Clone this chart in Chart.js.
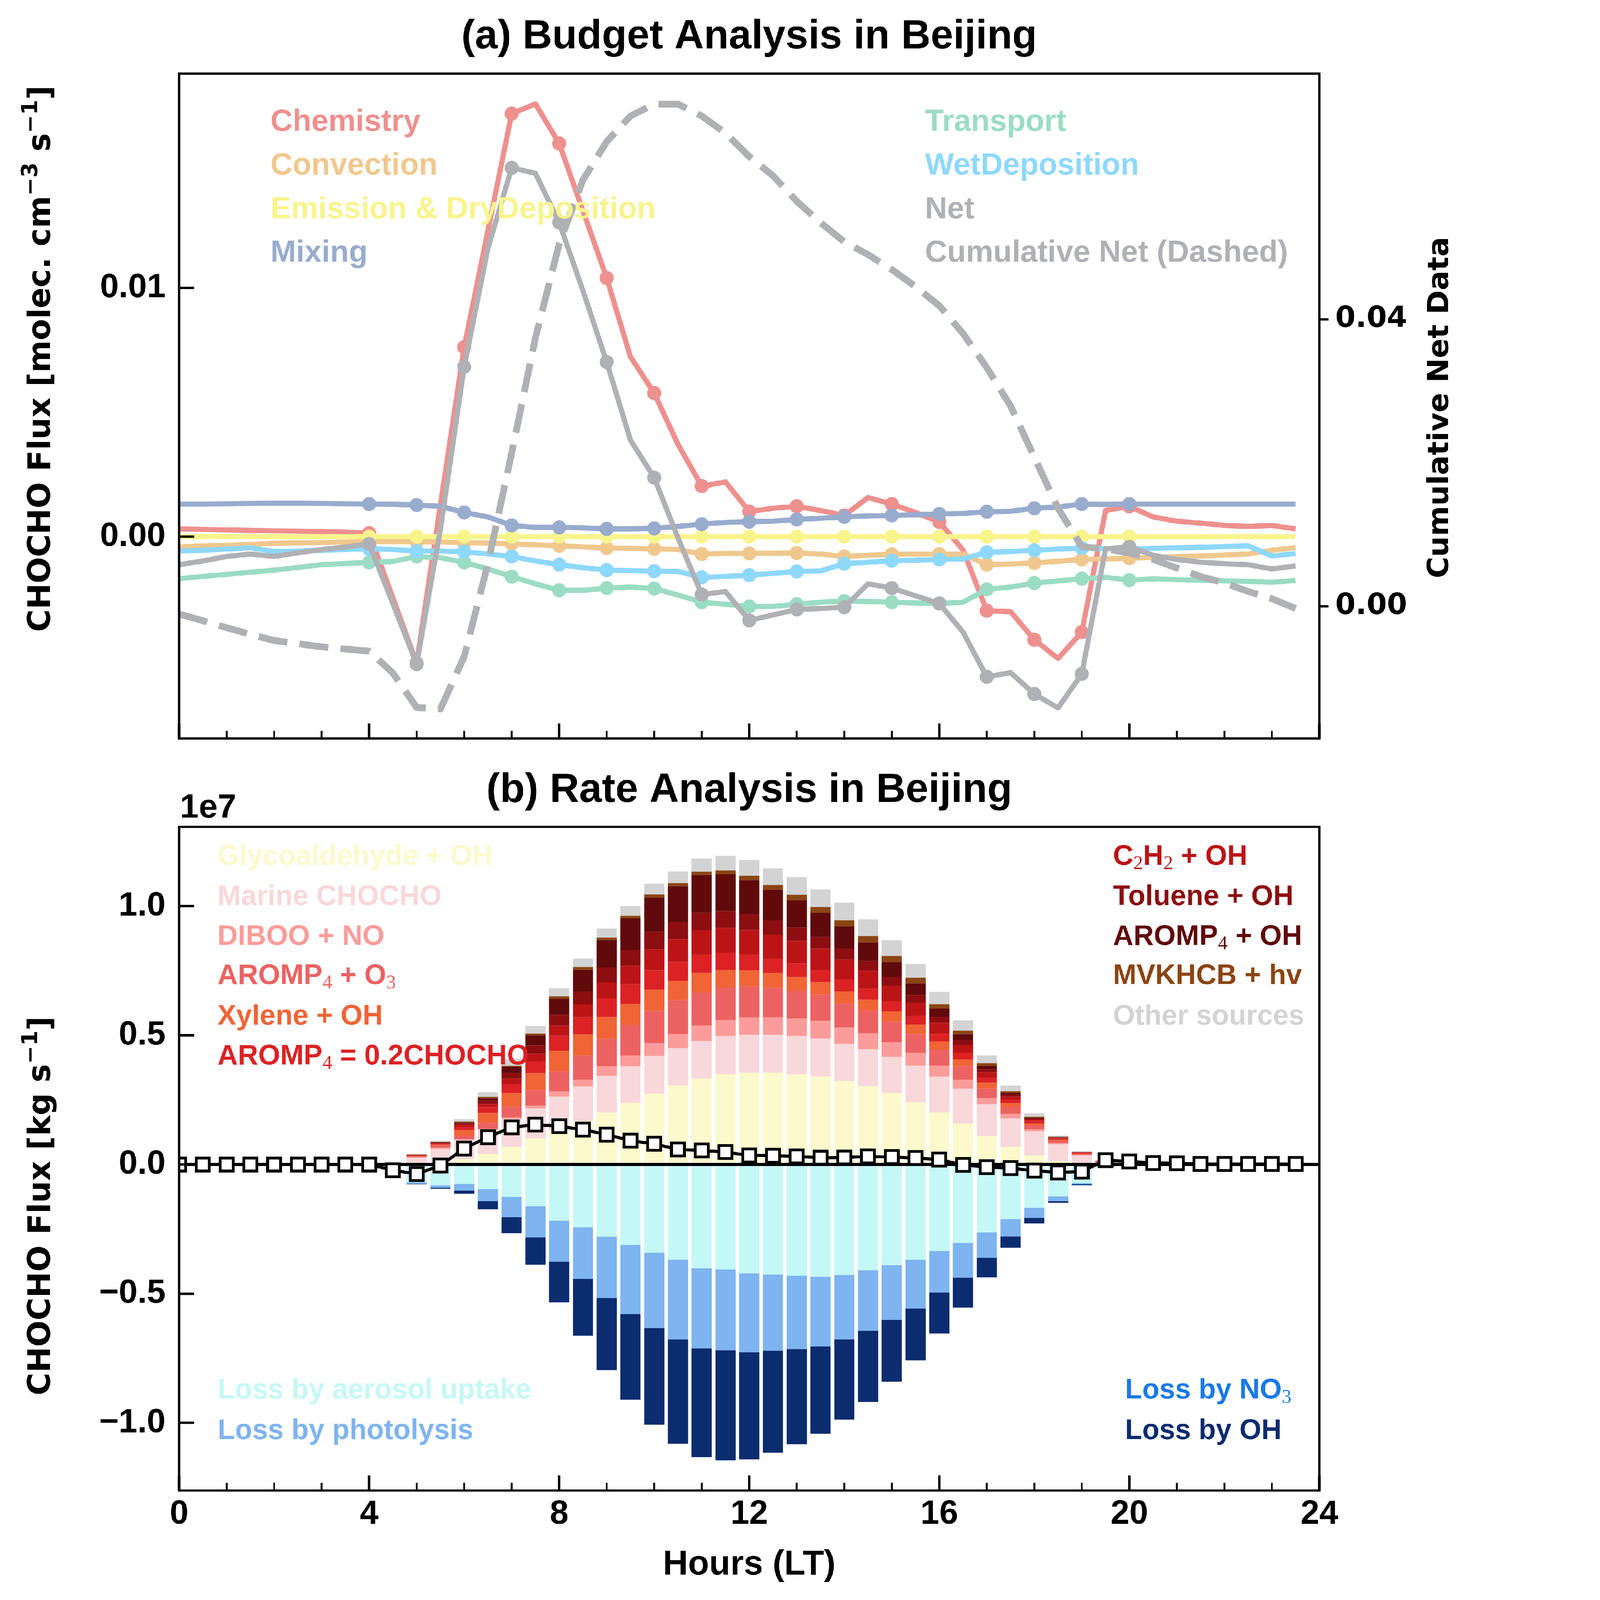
<!DOCTYPE html>
<html><head><meta charset="utf-8">
<script src="https://cdn.jsdelivr.net/npm/chart.js@4/dist/chart.umd.min.js"></script>
<style>
html,body{margin:0;padding:0;background:#fff;overflow:hidden;}
#page{width:4802px;height:5217px;position:absolute;left:0;top:0;transform-origin:0 0;background:#fff;}
canvas{position:absolute;left:0;}
#ca{top:0;}
#cb{top:2450px;}
</style></head><body>
<div id="page">
<canvas id="ca" width="4802" height="2450"></canvas>
<canvas id="cb" width="4802" height="2767"></canvas>
</div>
<script>
// fit the 4802x5217 drawing to the actual viewport (CSS px)
(function () {
  const f = Math.min(window.innerWidth / 4802, window.innerHeight / 5217);
  if (f > 0 && Math.abs(f - 1) > 0.001) document.getElementById('page').style.transform = 'scale(' + f + ')';
})();

// ---------------- shared x values (hours, LT) ----------------
const HOURS = [0,0.5,1,1.5,2,2.5,3,3.5,4,4.5,5,5.5,6,6.5,7,7.5,8,8.5,9,9.5,10,10.5,11,11.5,
               12,12.5,13,13.5,14,14.5,15,15.5,16,16.5,17,17.5,18,18.5,19,19.5,20,20.5,21,21.5,22,22.5,23,23.5];

// ---------------- panel (a): budget terms, values in 1e-3 molec. cm-3 s-1 ----------------
const chemistry = [0.31,0.29,0.27,0.25,0.23,0.22,0.20,0.18,0.14,-2.47,-5.09,1.27,7.62,12.3,17.01,17.4,15.81,13.1,10.40,7.23,
  5.77,3.71,2.03,2.20,1.01,1.14,1.22,1.05,0.85,1.57,1.31,0.97,0.59,-0.54,-2.98,-3.02,-4.15,-4.90,-3.84,1.05,
  1.22,0.79,0.62,0.54,0.45,0.41,0.45,0.31];
const convection = [-0.41,-0.38,-0.36,-0.31,-0.27,-0.25,-0.24,-0.22,-0.20,-0.20,-0.20,-0.22,-0.24,-0.26,-0.29,-0.33,-0.37,-0.41,-0.46,-0.47,
  -0.49,-0.52,-0.70,-0.68,-0.68,-0.67,-0.66,-0.70,-0.80,-0.75,-0.71,-0.70,-0.70,-0.70,-1.13,-1.10,-1.06,-0.99,-0.92,-0.90,
  -0.87,-0.84,-0.80,-0.78,-0.74,-0.70,-0.55,-0.44];
const emissionDryDep = [0,0,0,0,0,0,0,0,0,0,0,0,0,0,0,0,0,0,0,0,0,0,0,0,0,0,0,0,0,0,0,0,0,0,0,0,0,0,0,0,0,0,0,0,0,0,0,0];
const mixing = [1.31,1.31,1.32,1.33,1.34,1.34,1.33,1.32,1.31,1.30,1.27,1.22,0.97,0.79,0.45,0.37,0.37,0.35,0.31,0.31,
  0.33,0.41,0.50,0.57,0.60,0.62,0.69,0.74,0.79,0.83,0.85,0.88,0.91,0.93,1.00,1.02,1.14,1.19,1.31,1.29,
  1.31,1.31,1.31,1.31,1.31,1.31,1.31,1.31];
const transport = [-1.69,-1.60,-1.52,-1.43,-1.35,-1.24,-1.13,-1.08,-1.04,-1.00,-0.80,-0.85,-1.04,-1.30,-1.61,-1.90,-2.16,-2.16,-2.07,-2.03,
  -2.09,-2.35,-2.64,-2.72,-2.81,-2.81,-2.72,-2.64,-2.59,-2.61,-2.64,-2.67,-2.69,-2.64,-2.12,-2.03,-1.87,-1.78,-1.69,-1.64,
  -1.75,-1.70,-1.73,-1.75,-1.78,-1.80,-1.84,-1.76];
const wetDeposition = [-0.58,-0.55,-0.50,-0.45,-0.60,-0.58,-0.55,-0.52,-0.49,-0.52,-0.58,-0.58,-0.61,-0.70,-0.80,-0.98,-1.13,-1.25,-1.35,-1.37,
  -1.39,-1.40,-1.64,-1.60,-1.55,-1.48,-1.40,-1.38,-1.09,-1.03,-0.97,-0.95,-0.92,-0.90,-0.63,-0.60,-0.55,-0.50,-0.46,-0.48,
  -0.49,-0.47,-0.45,-0.43,-0.40,-0.37,-0.78,-0.68];
const net = [-1.13,-0.98,-0.80,-0.70,-0.80,-0.65,-0.52,-0.42,-0.29,-2.70,-5.13,0.3,6.83,11.60,14.83,14.61,12.63,9.89,7.02,3.88,
  2.37,-0.05,-2.33,-2.21,-3.37,-3.15,-2.93,-2.89,-2.84,-1.90,-2.07,-2.38,-2.69,-3.84,-5.64,-5.47,-6.33,-6.89,-5.52,-0.49,
  -0.41,-0.75,-0.92,-1.03,-1.09,-1.13,-1.30,-1.18];
const cumulativeNet = [-1.07,-2.0,-2.97,-3.9,-4.76,-5.2,-5.65,-5.95,-6.24,-9.3,-14.1,-14.3,-7.0,5.94,21.40,37.45,50.52,59.44,64.79,68.36,
  70.02,70.02,68.36,65.98,62.7,60.03,56.47,53.5,50.82,49.04,46.96,44.58,41.91,38.04,33.29,27.94,20.80,13.67,8.32,8.02,
  7.43,6.54,5.35,4.16,3.27,2.08,1.07,-0.30];
const A_UNIT = 1e-3;

// ---------------- panel (b): rates, values in 1e7 kg s-1 ----------------
const glycoaldehydeOH = [0,0,0,0,0,0,0,0,0,0, 0.003,0.006,0.021,0.040,0.068,0.101,0.132,0.168,0.202,0.239,
  0.274,0.305,0.332,0.349,0.355,0.355,0.350,0.341,0.324,0.303, 0.276,0.241,0.201,0.159,0.110,0.068,0.035,0.014,0.003,0.000, 0,0,0,0,0,0,0,0];
const marineCHOCHO = [0,0,0,0,0,0,0,0,0,0, 0.023,0.054,0.074,0.095,0.108,0.117,0.131,0.134,0.141,0.141,
  0.146,0.146,0.146,0.148,0.147,0.147,0.147,0.146,0.143,0.143, 0.141,0.141,0.139,0.134,0.123,0.111,0.093,0.064,0.032,0.006, 0,0,0,0,0,0,0,0];
const dibooNO = [0,0,0,0,0,0,0,0,0,0, 0.0025,0.005,0.0025,0.002,0.006,0.011,0.019,0.026,0.037,0.042,
  0.050,0.054,0.059,0.062,0.067,0.067,0.069,0.069,0.063,0.062, 0.056,0.051,0.042,0.035,0.024,0.017,0.008,0.005,0.003,0.002, 0,0,0,0,0,0,0,0];
const arompO3 = [0,0,0,0,0,0,0,0,0,0, 0.002,0.0075,0.014,0.023,0.042,0.058,0.077,0.093,0.106,0.118,
  0.125,0.131,0.130,0.126,0.121,0.115,0.106,0.101,0.093,0.087, 0.080,0.071,0.062,0.052,0.037,0.027,0.015,0.0075,0.003,0.003, 0,0,0,0,0,0,0,0];
const xyleneOH = [0,0,0,0,0,0,0,0,0,0, 0.002,0.004,0.021,0.039,0.052,0.066,0.081,0.082,0.086,0.082,
  0.082,0.075,0.074,0.068,0.061,0.056,0.053,0.049,0.047,0.043, 0.040,0.037,0.032,0.027,0.022,0.014,0.008,0.004,0.0017,0.001, 0,0,0,0,0,0,0,0];
const arompCHOCHO = [0,0,0,0,0,0,0,0,0,0, 0.0025,0.0033,0.0125,0.0225,0.036,0.047,0.058,0.067,0.071,0.075,
  0.075,0.073,0.072,0.067,0.062,0.057,0.053,0.047,0.047,0.042, 0.039,0.035,0.030,0.025,0.019,0.014,0.010,0.005,0.0025,0.003, 0,0,0,0,0,0,0,0];
const c2h2OH = [0,0,0,0,0,0,0,0,0,0, 0.001,0.0025,0.0083,0.0116,0.020,0.029,0.039,0.050,0.062,0.072,
  0.081,0.088,0.094,0.096,0.096,0.092,0.088,0.082,0.077,0.070, 0.060,0.050,0.042,0.031,0.022,0.012,0.005,0.003,0.0017,0, 0,0,0,0,0,0,0,0];
const tolueneOH = [0,0,0,0,0,0,0,0,0,0, 0.001,0.0025,0.0067,0.014,0.023,0.031,0.042,0.050,0.057,0.062,
  0.067,0.067,0.068,0.065,0.060,0.056,0.051,0.046,0.042,0.038, 0.034,0.030,0.023,0.019,0.012,0.0075,0.004,0.0017,0.0008,0, 0,0,0,0,0,0,0,0];
const arompOH = [0,0,0,0,0,0,0,0,0,0, 0.001,0.0017,0.0033,0.010,0.0225,0.039,0.062,0.084,0.106,0.121,
  0.133,0.138,0.146,0.142,0.131,0.119,0.106,0.093,0.086,0.072, 0.058,0.045,0.032,0.022,0.012,0.006,0.003,0.0008,0,0, 0,0,0,0,0,0,0,0];
const mvkhcbHv = [0,0,0,0,0,0,0,0,0,0, 0.0005,0.0008,0.0025,0.004,0.004,0.008,0.010,0.011,0.010,0.010,
  0.012,0.012,0.012,0.015,0.017,0.018,0.021,0.022,0.023,0.024, 0.023,0.022,0.018,0.014,0.011,0.0067,0.003,0.0017,0.0008,0, 0,0,0,0,0,0,0,0];
const otherSources = [0,0,0,0,0,0,0,0,0,0, 0.001,0.005,0.010,0.019,0.027,0.029,0.032,0.033,0.035,0.038,
  0.042,0.046,0.052,0.057,0.061,0.064,0.068,0.069,0.069,0.065, 0.061,0.053,0.047,0.040,0.031,0.022,0.014,0.006,0.0025,0, 0,0,0,0,0,0,0,0];
const lossAerosol = [0,0,0,0,0,0,0,0,0,0, -0.070,-0.080,-0.075,-0.095,-0.125,-0.161,-0.217,-0.243,-0.280,-0.311,
  -0.342,-0.369,-0.402,-0.407,-0.421,-0.426,-0.431,-0.435,-0.427,-0.409, -0.389,-0.368,-0.334,-0.304,-0.262,-0.211,-0.167,-0.123,-0.072,-0.005, 0,0,0,0,0,0,0,0];
const lossPhotolysis = [0,0,0,0,0,0,0,0,0,0, -0.004,-0.009,-0.026,-0.047,-0.079,-0.121,-0.159,-0.200,-0.237,-0.268,
  -0.291,-0.308,-0.310,-0.312,-0.306,-0.295,-0.283,-0.269,-0.250,-0.234, -0.213,-0.190,-0.162,-0.134,-0.099,-0.067,-0.039,-0.018,-0.0033,0, 0,0,0,0,0,0,0,0];
const lossNO3 = [0,0,0,0,0,0,0,0,0,0, -0.001,-0.001,0,0,0,0,0,0,0,0,
  0,0,0,0,0,0,0,0,0,0, 0,0,0,0,0,0,0,-0.001,-0.002,-0.002, 0,0,0,0,0,0,0,0];
const lossOH = [0,0,0,0,0,0,0,0,0,0, -0.002,-0.004,-0.0125,-0.031,-0.062,-0.106,-0.157,-0.220,-0.279,-0.332,
  -0.374,-0.404,-0.421,-0.426,-0.415,-0.395,-0.369,-0.339,-0.311,-0.276, -0.239,-0.200,-0.158,-0.116,-0.076,-0.044,-0.022,-0.0067,-0.0025,0, 0,0,0,0,0,0,0,0];
const netRate = [0,0,0,0,0,0,0,0,0,-0.022, -0.037,-0.004,0.062,0.106,0.144,0.154,0.148,0.135,0.116,0.092,
  0.080,0.058,0.054,0.048,0.035,0.034,0.031,0.026,0.027,0.031, 0.029,0.025,0.019,-0.002,-0.010,-0.014,-0.024,-0.031,-0.027,0.017,
  0.012,0.006,0.005,0.002,0.002,0.002,0.002,0.002];

// ---------------- labels and ticks ----------------
const BUDGET_LABELS = ['Chemistry','Convection','Emission & DryDeposition','Mixing','Transport','WetDeposition','Net','Cumulative Net (Dashed)'];
const SOURCE_LABELS = ['Glycoaldehyde + OH','Marine CHOCHO','DIBOO + NO','AROMP₄ + O₃','Xylene + OH','AROMP₄ = 0.2CHOCHO',
                       'C₂H₂ + OH','Toluene + OH','AROMP₄ + OH','MVKHCB + hv','Other sources'];
const LOSS_LABELS = ['Loss by aerosol uptake','Loss by photolysis','Loss by NO₃','Loss by OH'];
const X_TICKS = [0,4,8,12,16,20,24];
const Y_TICKS_A = [0, 0.01];
const Y2_TICKS_A = [0, 0.04];
const Y_TICKS_B = [-1.0,-0.5,0,0.5,1.0];

// ---------------- styles ----------------
const BUDGET_COLORS = ['#EE908E','#F0C88E','#F8F48C','#98ACCE','#9BDCC4','#8ED8FA','#B0B1B5','#B0B1B5'];
const SOURCE_COLORS = ['#FCF9CC','#F8D8DA','#FC9C9A','#EC6262','#F06436','#DC2224','#BC1416','#8C0E10','#600A0C','#8B4513','#D3D3D3'];
const LOSS_COLORS = ['#C4F8F6','#7EB4F0','#1A7AE6','#0C2C70'];
const SANS = "'Liberation Sans', Arial, Helvetica, sans-serif";
const DJV = "'DejaVu Sans', 'Liberation Sans', sans-serif";
const SERIF = "'Liberation Serif', 'DejaVu Serif', serif";
Chart.defaults.font.family = SANS;

const pts = (arr, k) => arr.map((v, i) => ({x: HOURS[i], y: v * (k || 1)}));
const noPad = s => { s.paddingTop = 0; s.paddingBottom = 0; s.paddingLeft = 0; s.paddingRight = 0; };

// ---------------- rich text (sub/superscripts) ----------------
const SUBMAP = {'₀':'0','₁':'1','₂':'2','₃':'3','₄':'4','₅':'5','₆':'6','₇':'7','₈':'8','₉':'9'};
const SUPMAP = {'⁻':'−','¹':'1','²':'2','³':'3','⁰':'0'};
function runsOf(text) {
  const runs = [];
  for (const ch of text) {
    let kind = 'n', c = ch;
    if (SUBMAP[ch]) { kind = 'sub'; c = SUBMAP[ch]; }
    else if (SUPMAP[ch]) { kind = 'sup'; c = SUPMAP[ch]; }
    if (runs.length && runs[runs.length - 1].kind === kind) runs[runs.length - 1].t += c;
    else runs.push({kind, t: c});
  }
  return runs;
}
function drawRich(ctx, text, x, y, o) {
  const size = o.size, fam = o.family || SANS;
  const fontFor = k => k === 'n' ? `bold ${size}px ${fam}`
    : (k === 'sub' ? `normal ${Math.round(size * 0.68)}px ${SERIF}` : `bold ${Math.round(size * 0.7)}px ${fam}`);
  const runs = runsOf(text);
  let w = 0;
  for (const r of runs) { ctx.font = fontFor(r.kind); r.w = ctx.measureText(r.t).width; w += r.w; }
  let cx = o.align === 'center' ? x - w / 2 : (o.align === 'right' ? x - w : x);
  ctx.fillStyle = o.color || '#000';
  ctx.textAlign = 'left';
  ctx.textBaseline = 'alphabetic';
  for (const r of runs) {
    ctx.font = fontFor(r.kind);
    const dy = r.kind === 'sub' ? size * 0.15 : (r.kind === 'sup' ? -size * 0.42 : 0);
    ctx.fillText(r.t, cx, y + dy);
    cx += r.w;
  }
}
function drawRotated(ctx, text, x, y, o) {
  ctx.save();
  ctx.translate(x, y);
  ctx.rotate(-Math.PI / 2);
  drawRich(ctx, text, 0, 0, Object.assign({align: 'center'}, o));
  ctx.restore();
}
function drawFrameTicks(chart, yTicks, y2Ticks) {
  const {ctx, chartArea: a, scales} = chart;
  ctx.save();
  ctx.strokeStyle = '#000';
  ctx.lineCap = 'butt';
  for (let h = 0; h <= 24; h++) {
    const major = X_TICKS.includes(h);
    const px = scales.x.getPixelForValue(h);
    ctx.lineWidth = major ? 8 : 6;
    ctx.beginPath(); ctx.moveTo(px, a.bottom); ctx.lineTo(px, a.bottom - (major ? 49 : 25)); ctx.stroke();
  }
  ctx.lineWidth = 8;
  for (const v of yTicks) {
    const py = scales.y.getPixelForValue(v);
    ctx.beginPath(); ctx.moveTo(a.left, py); ctx.lineTo(a.left + 49, py); ctx.stroke();
  }
  if (y2Ticks) for (const v of y2Ticks) {
    const py = scales.y2.getPixelForValue(v);
    ctx.beginPath(); ctx.moveTo(a.right, py); ctx.lineTo(a.right + 30, py); ctx.stroke();
  }
  ctx.lineWidth = 7;
  ctx.strokeRect(a.left, a.top, a.right - a.left, a.bottom - a.top);
  ctx.restore();
}

// ---------------- chart (a) ----------------
const markAtHours = c => { const h = HOURS[c.dataIndex]; return (Number.isInteger(h) && h >= 4 && h <= 20) ? 23 : 0; };
const budgetSeries = [chemistry, convection, emissionDryDep, mixing, transport, wetDeposition, net];
const datasetsA = budgetSeries.map((arr, i) => ({
  label: BUDGET_LABELS[i], data: pts(arr, A_UNIT), yAxisID: 'y',
  borderColor: BUDGET_COLORS[i], backgroundColor: BUDGET_COLORS[i], borderWidth: 17,
  pointRadius: markAtHours, pointBorderWidth: 0, pointHoverRadius: 0,
  tension: 0, borderJoinStyle: 'round', clip: 0, order: 10 - i
}));
datasetsA.push({
  label: BUDGET_LABELS[7], data: pts(cumulativeNet, A_UNIT), yAxisID: 'y2',
  borderColor: BUDGET_COLORS[7], borderWidth: 22, borderDash: [95, 40], pointRadius: 0,
  tension: 0, borderJoinStyle: 'round', clip: 0, order: 0
});

const decorA = {
  id: 'decorA',
  afterDraw(chart) {
    const ctx = chart.ctx, a = chart.chartArea;
    drawFrameTicks(chart, Y_TICKS_A, Y2_TICKS_A);
    const cx = (a.left + a.right) / 2;
    drawRich(ctx, '(a) Budget Analysis in Beijing', cx, 158, {size: 133, align: 'center'});
    const rows = [427, 569, 712, 854];
    for (let i = 0; i < 4; i++) {
      drawRich(ctx, BUDGET_LABELS[i], 882, rows[i], {size: 100, color: BUDGET_COLORS[i]});
      drawRich(ctx, BUDGET_LABELS[i + 4], 3016, rows[i], {size: 100, color: BUDGET_COLORS[i + 4]});
    }
    drawRotated(ctx, 'CHOCHO Flux [molec. cm⁻³ s⁻¹]', 163, 1170, {size: 101, family: DJV});
    drawRotated(ctx, 'Cumulative Net Data', 4722, 1329, {size: 95, family: DJV});
  }
};

new Chart(document.getElementById('ca'), {
  type: 'line',
  data: {datasets: datasetsA},
  options: {
    responsive: false, animation: false, devicePixelRatio: 1,
    layout: {padding: {top: 240, left: 0, right: 0, bottom: 0}},
    plugins: {legend: {display: false}, tooltip: {enabled: false}, title: {display: false}},
    scales: {
      x: {type: 'linear', min: 0, max: 24, grid: {display: false, drawTicks: false}, border: {display: false},
          ticks: {display: false}, afterFit: s => { noPad(s); s.height = 2450 - 2408; }},
      y: {type: 'linear', position: 'left', min: -0.00812, max: 0.01862,
          grid: {display: false, drawTicks: false}, border: {display: false},
          afterBuildTicks: s => { s.ticks = Y_TICKS_A.map(v => ({value: v})); },
          ticks: {callback: v => v.toFixed(2), color: '#000', padding: 44, font: {family: SANS, weight: 'bold', size: 110}},
          afterFit: s => { noPad(s); s.width = 584; }},
      y2: {type: 'linear', position: 'right', min: -0.01842, max: 0.07427,
          grid: {display: false, drawTicks: false}, border: {display: false},
          afterBuildTicks: s => { s.ticks = Y2_TICKS_A.map(v => ({value: v})); },
          ticks: {callback: v => v.toFixed(2), color: '#000', padding: 52, font: {family: DJV, weight: 'bold', size: 95}},
          afterFit: s => { noPad(s); s.width = 4802 - 4302; }}
    }
  },
  plugins: [decorA]
});

// ---------------- chart (b) ----------------
const sourceSeries = [glycoaldehydeOH, marineCHOCHO, dibooNO, arompO3, xyleneOH, arompCHOCHO, c2h2OH, tolueneOH, arompOH, mvkhcbHv, otherSources];
const lossSeries = [lossAerosol, lossPhotolysis, lossNO3, lossOH];
const barSet = (label, arr, color) => ({
  type: 'bar', label, data: pts(arr), backgroundColor: color, borderWidth: 0, stack: 'rates',
  barPercentage: 0.85, categoryPercentage: 1.0, order: 1
});
const datasetsB = sourceSeries.map((arr, i) => barSet(SOURCE_LABELS[i], arr, SOURCE_COLORS[i]))
  .concat(lossSeries.map((arr, i) => barSet(LOSS_LABELS[i], arr, LOSS_COLORS[i])));
datasetsB.push({
  type: 'line', label: 'Net', data: pts(netRate), stack: 'netline',
  borderColor: '#000', borderWidth: 10, tension: 0, clip: 0, order: -1,
  pointStyle: 'rect', pointRadius: 30, pointBackgroundColor: '#fff', pointBorderColor: '#000', pointBorderWidth: 9, pointHoverRadius: 30
});

const decorB = {
  id: 'decorB',
  beforeDatasetDraw(chart, args) {
    if (args.meta.type !== 'line') return;
    const {ctx, chartArea: a, scales} = chart;
    const py = scales.y.getPixelForValue(0);
    ctx.save();
    ctx.strokeStyle = '#000'; ctx.lineWidth = 10;
    ctx.beginPath(); ctx.moveTo(a.left, py); ctx.lineTo(a.right, py); ctx.stroke();
    ctx.restore();
  },
  afterDraw(chart) {
    const ctx = chart.ctx, a = chart.chartArea;
    drawFrameTicks(chart, Y_TICKS_B, null);
    const cx = (a.left + a.right) / 2;
    drawRich(ctx, '(b) Rate Analysis in Beijing', cx, 165, {size: 133, align: 'center'});
    drawRich(ctx, '1e7', 587, 216, {size: 110});
    const rows = [370, 501, 631, 759, 891, 1021];
    for (let i = 0; i < 6; i++) drawRich(ctx, SOURCE_LABELS[i], 709, rows[i], {size: 92, color: SOURCE_COLORS[i]});
    for (let i = 6; i < 11; i++) drawRich(ctx, SOURCE_LABELS[i], 3629, rows[i - 6], {size: 92, color: SOURCE_COLORS[i]});
    const rows2 = [2110, 2242];
    for (let i = 0; i < 2; i++) {
      drawRich(ctx, LOSS_LABELS[i], 710, rows2[i], {size: 92, color: LOSS_COLORS[i]});
      drawRich(ctx, LOSS_LABELS[i + 2], 3668, rows2[i], {size: 92, color: LOSS_COLORS[i + 2]});
    }
    drawRotated(ctx, 'CHOCHO Flux [kg s⁻¹]', 163, 1482, {size: 101, family: DJV});
    drawRich(ctx, 'Hours (LT)', cx, 2684, {size: 113, align: 'center'});
  }
};

new Chart(document.getElementById('cb'), {
  type: 'bar',
  data: {datasets: datasetsB},
  options: {
    responsive: false, animation: false, devicePixelRatio: 1,
    layout: {padding: {top: 246, left: 0, right: 500, bottom: 0}},
    plugins: {legend: {display: false}, tooltip: {enabled: false}, title: {display: false}},
    scales: {
      x: {type: 'linear', min: 0, max: 24, offset: false, stacked: true,
          grid: {display: false, drawTicks: false}, border: {display: false},
          afterBuildTicks: s => { s.ticks = X_TICKS.map(v => ({value: v})); },
          ticks: {autoSkip: false, maxRotation: 0, color: '#000', padding: 12, callback: v => String(v),
                  font: {family: SANS, weight: 'bold', size: 110}},
          afterFit: s => { noPad(s); s.height = 2767 - 2410; }},
      y: {type: 'linear', min: -1.262, max: 1.307, stacked: true,
          grid: {display: false, drawTicks: false}, border: {display: false},
          afterBuildTicks: s => { s.ticks = Y_TICKS_B.map(v => ({value: v})); },
          ticks: {callback: v => v.toFixed(1).replace('-', '−'), color: '#000', padding: 44,
                  font: {family: SANS, weight: 'bold', size: 110}},
          afterFit: s => { noPad(s); s.width = 584; }}
    }
  },
  plugins: [decorB]
});
</script>
</body></html>
